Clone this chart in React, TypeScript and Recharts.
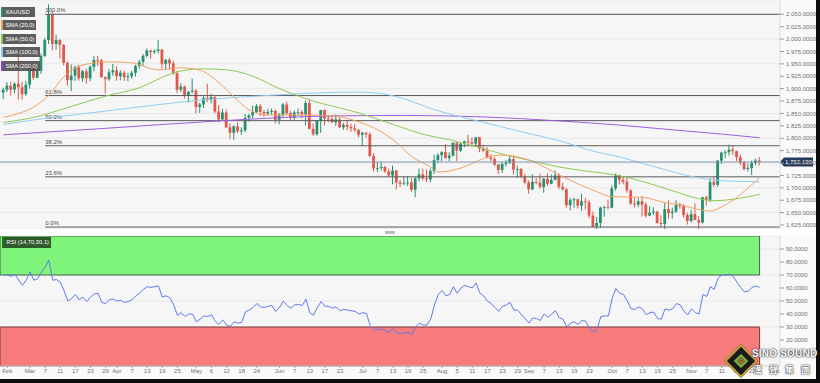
import React from 'react';
import { ComposedChart, Bar, Line, XAxis, YAxis, CartesianGrid, ReferenceLine, ReferenceArea } from 'recharts';

// first bar = Feb 18 (index 0 = Mar 1, trading-day index)
const FIRST_INDEX = -7;

const opens = [
  1892, 1898, 1906, 1898, 1910, 1903, 1889,
  1908, 1943, 1922, 1936, 1966, 1998, 2050, 1990, 1998, 1988,
  1952, 1917, 1926, 1943, 1921, 1935, 1921, 1944, 1958, 1957,
  1923, 1919, 1933, 1937, 1925, 1932, 1923, 1925, 1932, 1946,
  1954, 1966, 1977, 1974, 1976, 1979, 1950, 1958, 1951, 1931,
  1898, 1904, 1886, 1894, 1896, 1863, 1868, 1881, 1877, 1883,
  1854, 1838, 1852, 1822, 1811, 1824, 1814, 1816, 1841, 1846,
  1853, 1865, 1853, 1850, 1853, 1855, 1837, 1847, 1868, 1851,
  1841, 1852, 1853, 1848, 1871, 1819, 1808, 1835, 1857, 1840,
  1839, 1832, 1838, 1822, 1827, 1823, 1820, 1817, 1807, 1811,
  1808, 1764, 1739, 1740, 1742, 1733, 1725, 1735, 1711, 1708,
  1709, 1711, 1696, 1719, 1727, 1719, 1717, 1734, 1756, 1766,
  1772, 1760, 1765, 1791, 1775, 1789, 1794, 1792, 1789, 1802,
  1779, 1775, 1761, 1758, 1747, 1736, 1748, 1751, 1758, 1737,
  1738, 1723, 1711, 1697, 1712, 1710, 1702, 1718, 1708, 1716,
  1725, 1702, 1697, 1665, 1675, 1677, 1664, 1673, 1671, 1644,
  1622, 1629, 1660, 1661, 1660, 1699, 1725, 1716, 1712, 1695,
  1668, 1666, 1673, 1666, 1644, 1650, 1652, 1629, 1627, 1657,
  1649, 1652, 1665, 1663, 1645, 1633, 1647, 1635, 1630, 1681,
  1676, 1712, 1706, 1755, 1771, 1772, 1777, 1774, 1762, 1751,
  1738, 1740, 1750, 1755,
];
const highs = [
  1902, 1913, 1914, 1913, 1974, 1914, 1916,
  1950, 1950, 1937, 1971, 2002, 2070, 2056, 2009, 2000, 1990,
  1955, 1949, 1946, 1948, 1938, 1940, 1947, 1966, 1966, 1960,
  1925, 1940, 1950, 1945, 1937, 1936, 1932, 1936, 1948, 1958,
  1970, 1981, 1978, 1979, 1998, 1980, 1960, 1962, 1956, 1936,
  1911, 1906, 1895, 1920, 1899, 1872, 1885, 1910, 1890, 1886,
  1867, 1859, 1858, 1830, 1826, 1832, 1822, 1849, 1849, 1866,
  1869, 1869, 1857, 1859, 1860, 1858, 1851, 1871, 1874, 1855,
  1856, 1860, 1857, 1876, 1878, 1830, 1836, 1857, 1858, 1847,
  1847, 1848, 1842, 1831, 1837, 1829, 1829, 1818, 1813, 1813,
  1812, 1770, 1752, 1752, 1745, 1739, 1745, 1736, 1716, 1723,
  1724, 1720, 1722, 1739, 1739, 1737, 1739, 1767, 1770, 1774,
  1788, 1772, 1792, 1792, 1791, 1795, 1807, 1802, 1802, 1802,
  1787, 1782, 1767, 1762, 1748, 1751, 1756, 1766, 1765, 1745,
  1740, 1728, 1715, 1727, 1720, 1729, 1720, 1729, 1727, 1735,
  1729, 1710, 1700, 1680, 1680, 1678, 1688, 1680, 1676, 1652,
  1641, 1662, 1664, 1676, 1705, 1729, 1727, 1723, 1721, 1697,
  1680, 1679, 1683, 1671, 1663, 1661, 1654, 1645, 1669, 1675,
  1660, 1675, 1670, 1667, 1650, 1656, 1669, 1643, 1682, 1684,
  1720, 1722, 1756, 1773, 1776, 1787, 1786, 1775, 1767, 1754,
  1749, 1755, 1759, 1762,
];
const lows = [
  1879, 1893, 1886, 1891, 1878, 1878, 1885,
  1900, 1918, 1921, 1930, 1964, 1990, 1977, 1979, 1961, 1947,
  1906, 1895, 1916, 1916, 1914, 1910, 1915, 1935, 1946, 1922,
  1890, 1916, 1926, 1916, 1917, 1916, 1915, 1920, 1924, 1940,
  1945, 1963, 1960, 1970, 1971, 1941, 1939, 1939, 1928, 1891,
  1893, 1880, 1872, 1890, 1850, 1851, 1861, 1873, 1870, 1850,
  1832, 1836, 1821, 1798, 1797, 1810, 1807, 1812, 1834, 1840,
  1850, 1845, 1843, 1846, 1848, 1830, 1828, 1842, 1847, 1837,
  1837, 1845, 1840, 1826, 1818, 1805, 1805, 1811, 1826, 1832,
  1831, 1825, 1821, 1817, 1816, 1813, 1813, 1802, 1784, 1801,
  1763, 1733, 1732, 1735, 1730, 1722, 1707, 1697, 1702, 1706,
  1704, 1692, 1681, 1713, 1715, 1712, 1711, 1728, 1750, 1754,
  1759, 1754, 1763, 1754, 1772, 1782, 1787, 1783, 1784, 1772,
  1772, 1759, 1753, 1744, 1728, 1730, 1743, 1748, 1727, 1720,
  1720, 1707, 1688, 1695, 1707, 1698, 1690, 1704, 1707, 1715,
  1697, 1695, 1660, 1654, 1660, 1658, 1654, 1656, 1639, 1621,
  1616, 1620, 1642, 1657, 1659, 1695, 1707, 1707, 1690, 1666,
  1660, 1661, 1642, 1640, 1643, 1645, 1628, 1621, 1617, 1638,
  1638, 1650, 1658, 1640, 1626, 1630, 1635, 1616, 1628, 1664,
  1671, 1702, 1702, 1748, 1760, 1765, 1766, 1754, 1746, 1735,
  1733, 1726, 1745, 1745,
];
const closes = [
  1898, 1906, 1898, 1910, 1903, 1889, 1908,
  1943, 1922, 1936, 1966, 1998, 2050, 1990, 1998, 1988, 1952,
  1917, 1926, 1943, 1921, 1935, 1921, 1944, 1958, 1957, 1923,
  1919, 1933, 1937, 1925, 1932, 1923, 1925, 1932, 1946, 1954,
  1966, 1977, 1974, 1976, 1979, 1950, 1958, 1951, 1931, 1898,
  1904, 1886, 1894, 1896, 1863, 1868, 1881, 1877, 1883, 1854,
  1838, 1852, 1822, 1811, 1824, 1814, 1816, 1841, 1846, 1853,
  1865, 1853, 1850, 1853, 1855, 1837, 1847, 1868, 1851, 1841,
  1852, 1853, 1848, 1871, 1819, 1808, 1835, 1857, 1840, 1839,
  1832, 1838, 1822, 1827, 1823, 1820, 1817, 1807, 1811, 1808,
  1764, 1739, 1740, 1742, 1733, 1725, 1735, 1711, 1708, 1709,
  1711, 1696, 1719, 1727, 1719, 1717, 1734, 1756, 1766, 1772,
  1760, 1765, 1791, 1775, 1789, 1794, 1792, 1789, 1802, 1779,
  1775, 1761, 1758, 1747, 1736, 1748, 1751, 1758, 1737, 1738,
  1723, 1711, 1697, 1712, 1710, 1702, 1718, 1708, 1716, 1725,
  1702, 1697, 1665, 1675, 1677, 1664, 1673, 1671, 1644, 1622,
  1629, 1660, 1661, 1660, 1699, 1725, 1716, 1712, 1695, 1668,
  1666, 1673, 1666, 1644, 1650, 1652, 1629, 1627, 1657, 1649,
  1652, 1665, 1663, 1645, 1633, 1647, 1635, 1630, 1681, 1676,
  1712, 1706, 1755, 1771, 1772, 1777, 1774, 1762, 1751, 1738,
  1740, 1750, 1755, 1752,
];

const rsiValues = [
  70, 70, 69, 70.5, 66, 62, 66,
  72.5, 66, 67, 72, 76, 81.5, 66, 66.5, 64.5, 58,
  50, 52, 55, 51, 53, 49.5, 53, 55.5, 56, 49,
  48, 51, 51.5, 50, 50.5, 49, 49.5, 51, 54, 56,
  59, 61, 60.5, 61, 61.5, 53, 54, 52.5, 47, 39,
  41, 38, 40, 40, 34, 36, 38.5, 38, 39.5, 34.5,
  32, 35.5, 31.5, 30.5, 34, 33, 33.5, 41.8, 43, 45,
  48, 45.5, 45, 46, 46.5, 42, 45, 50, 46.5, 44.5,
  47, 47.3, 46.5, 51.5, 41, 39, 45, 49.5, 46, 45.8,
  44.5, 45.5, 42.5, 43.5, 43, 42.5, 42, 40, 41, 40.5,
  31, 27.5, 28, 28.5, 27, 26, 29, 25.5, 25, 25.5,
  26, 24, 30, 33, 31.5, 31.5, 36, 47, 55, 58,
  54, 55, 61, 56, 60, 62, 61, 60, 64, 56,
  54, 50, 48, 45, 42, 46, 47, 49, 43, 43,
  39.5, 36.5, 33, 37, 36.5, 35, 40, 37.5, 40, 42.5,
  37, 36, 30, 33, 34, 32, 35, 34.5, 29, 26,
  28, 38, 38.5, 38.5, 52, 59.5, 56, 55, 50, 44,
  43.5, 45.5, 44, 39.5, 41, 41.5, 36.5, 36, 44, 43,
  44, 48, 47, 42, 39.5, 44, 41, 40, 55, 53.5,
  61, 59, 67.5, 70, 70, 70.8, 69, 64.5, 60.5, 57,
  57.5, 60.5, 61.5, 60.5,
];

// moving averages: [trading-day index, value]
const sma20Points: [number, number][] = [
  [-7, 1842], [-3, 1850], [1, 1863], [5, 1887], [9, 1924], [14, 1948], [21, 1954], [27, 1952],
  [34, 1938], [40, 1942], [45, 1937], [50, 1912], [54, 1883], [58, 1857], [63, 1847], [71, 1847],
  [80, 1845], [87, 1833], [92, 1817], [97, 1791], [101, 1763], [106, 1742], [108, 1732], [114, 1740],
  [119, 1756], [122, 1764], [125, 1766], [132, 1756], [141, 1722], [150, 1692], [154, 1682],
  [162, 1681], [168, 1670], [172, 1666], [177, 1656], [180, 1653], [183, 1662], [186, 1675],
  [190, 1700], [193, 1720],
];
const sma50Points: [number, number][] = [
  [-7, 1832], [1, 1842], [10, 1862], [20, 1885], [29, 1902], [38, 1932], [45, 1940], [52, 1938],
  [59, 1925], [66, 1900], [75, 1875], [87, 1851], [96, 1828], [105, 1806], [111, 1797], [118, 1783],
  [126, 1766], [133, 1754], [140, 1742], [148, 1733], [155, 1726], [162, 1713], [170, 1694],
  [177, 1678], [181, 1674], [186, 1677], [193, 1687],
];
const sma100Points: [number, number][] = [
  [-7, 1828], [1, 1837], [18, 1853], [32, 1866], [45, 1877], [60, 1885], [75, 1891], [87, 1893],
  [93, 1890], [100, 1877], [106, 1860], [111, 1849], [120, 1832], [130, 1813], [140, 1795],
  [150, 1772], [155, 1764], [165, 1743], [177, 1720], [182, 1715], [188, 1713], [193, 1712],
];
const sma200Points: [number, number][] = [
  [-7, 1807], [20, 1820], [50, 1835], [80, 1845], [100, 1846], [120, 1843], [140, 1835],
  [155, 1827], [170, 1817], [185, 1807], [193, 1801],
];

const priceTicks = [1625, 1650, 1675, 1700, 1725, 1750, 1775, 1800, 1825, 1850, 1875, 1900, 1925, 1950, 1975, 2000, 2025, 2050];
const rsiTicks = [10, 20, 30, 40, 50, 60, 70, 80, 90];

const dateTickIndex = [-6, 0, 4, 8, 12, 16, 20, 23, 27, 31, 35, 39, 44, 48, 52, 56, 60, 66, 70, 74, 78, 82, 88, 92, 96, 100, 104, 109, 113, 117, 121, 125, 129, 132, 136, 140, 144, 148, 154, 158, 162, 166, 170, 175, 179, 183, 187, 191, 197];
const dateTickLabel = ['Feb', 'Mar', '7', '11', '17', '23', '29', 'Apr', '7', '13', '19', '25', 'May', '6', '12', '18', '24', 'Jun', '7', '13', '17', '23', 'Jul', '7', '13', '19', '25', 'Aug', '5', '11', '17', '23', '29', 'Sep', '7', '13', '19', '23', 'Oct', '7', '13', '19', '25', 'Nov', '7', '11', '17', '23', 'Dec'];
const monthStartIndex = [0, 23, 44, 66, 88, 109, 132, 154, 175, 197];

const fibLabels = ['100.0%', '61.8%', '50.0%', '38.2%', '23.6%', '0.0%'];
const fibPrices = [2050, 1886.1, 1835.5, 1784.9, 1722.2, 1621];
const fibStartIndex = 4;

const lastPrice = 1752.13;
const X_DOMAIN: [number, number] = [-7.94, 198.4];

const BULL = '#27916f';
const BEAR = '#e0584b';
const FONT = '"Liberation Sans", Arial, sans-serif';

const fmt4 = (v: number) => v.toLocaleString('en-US', { minimumFractionDigits: 4, maximumFractionDigits: 4 });

const Candle = (props: any) => {
  const { x, y, width, height, payload } = props;
  if (!payload || x == null) return null;
  const { o, h, l, c } = payload;
  const top = height >= 0 ? y : y + height;
  const hp = Math.abs(height);
  const span = h - l || 1;
  const yOf = (v: number) => top + ((h - v) / span) * hp;
  const cx = x + width / 2;
  const color = c >= o ? BULL : BEAR;
  const bt = yOf(Math.max(o, c));
  const bb = yOf(Math.min(o, c));
  return (
    <g>
      <line x1={cx} x2={cx} y1={top} y2={top + hp} stroke={color} strokeWidth={1} />
      <rect x={cx - 1.4} y={bt} width={2.8} height={Math.max(bb - bt, 0.8)} fill={color} />
    </g>
  );
};

const monthGrid = (p: any) => {
  const sc = p && p.xAxis && p.xAxis.scale;
  if (typeof sc !== 'function') return [];
  return monthStartIndex.map((m) => sc(m));
};

const legendItems = [
  { text: 'XAUUSD', color: BULL, w: 34 },
  { text: 'SMA (20,0)', color: '#f39a4e', w: 35 },
  { text: 'SMA (50,0)', color: '#86c84a', w: 35 },
  { text: 'SMA (100,0)', color: '#8ccaf2', w: 39 },
  { text: 'SMA (200,0)', color: '#8a3fe0', w: 39 },
];

const toSeries = (pts: [number, number][]) => pts.map(([i, v]) => ({ i, v }));

export default function App() {
  const rows: any[] = opens.map((o, k) => ({
    i: FIRST_INDEX + k,
    o,
    h: highs[k],
    l: lows[k],
    c: closes[k],
    rsi: rsiValues[k],
  }));
  const lastIndex = FIRST_INDEX + closes.length - 1;

  const axisTick = { fontSize: 6, fill: '#707070', fontFamily: FONT };

  return (
    <div style={{ position: 'absolute', left: 0, top: 0, width: 820, height: 383, background: '#0d0d0d', overflow: 'hidden', fontFamily: FONT }}>
      <div style={{ position: 'absolute', left: 0, top: 0, width: 816, height: 379, background: '#fafafa' }} />
      <div style={{ position: 'absolute', left: 0, top: 229, width: 816, height: 6, background: '#ffffff' }} />
      <div style={{ position: 'absolute', left: 385, top: 231, width: 10, height: 3, background: '#bcbcbc' }} />

      <div style={{ position: 'absolute', left: 0, top: 0 }}>
        <ComposedChart width={820} height={229} data={rows} margin={{ top: 0, right: 0, bottom: 0, left: 0 }}>
          <CartesianGrid stroke="#e9e9e9" fill="#f6f6f6" verticalCoordinatesGenerator={monthGrid} />
          <XAxis dataKey="i" type="number" domain={X_DOMAIN} hide allowDataOverflow />
          <YAxis
            orientation="right"
            width={40}
            domain={[1617, 2078.8]}
            ticks={priceTicks}
            allowDataOverflow
            tickFormatter={fmt4}
            tick={axisTick}
            tickSize={4}
            tickMargin={2}
            tickLine={{ stroke: '#9a9a9a' }}
            axisLine={{ stroke: '#d3d9e3' }}
          />
          {fibPrices.map((p, k) => (
            <ReferenceLine
              key={'f' + k}
              segment={[{ x: fibStartIndex, y: p }, { x: X_DOMAIN[1], y: p }]}
              stroke="#5a5a5a"
              strokeWidth={1}
              label={(lp: any) => {
                const vb = lp.viewBox || {};
                return (
                  <text x={vb.x} y={vb.y - 2} fontSize={6} fill="#4a4a4a" fontFamily={FONT}>
                    {fibLabels[k]}
                  </text>
                );
              }}
            />
          ))}
          <Line data={toSeries(sma200Points)} dataKey="v" type="monotone" stroke="#9b5fe0" strokeWidth={1} dot={false} activeDot={false} isAnimationActive={false} />
          <Line data={toSeries(sma100Points)} dataKey="v" type="monotone" stroke="#93cdf4" strokeWidth={1} dot={false} activeDot={false} isAnimationActive={false} />
          <Line data={toSeries(sma50Points)} dataKey="v" type="monotone" stroke="#8ccb52" strokeWidth={1} dot={false} activeDot={false} isAnimationActive={false} />
          <Line data={toSeries(sma20Points)} dataKey="v" type="monotone" stroke="#f4a262" strokeWidth={1} dot={false} activeDot={false} isAnimationActive={false} />
          <Bar dataKey={(d: any) => [d.l, d.h]} barSize={3} shape={<Candle />} isAnimationActive={false} />
          <ReferenceLine
            y={lastPrice}
            stroke="#7f97b8"
            strokeWidth={1}
            label={(lp: any) => {
              const vb = lp.viewBox || {};
              const x0 = vb.x + vb.width;
              const yy = vb.y;
              return (
                <g>
                  <path d={`M${x0} ${yy} L${x0 + 4} ${yy - 4.5} L${x0 + 33} ${yy - 4.5} L${x0 + 33} ${yy + 4.5} L${x0 + 4} ${yy + 4.5} Z`} fill="#233a5c" />
                  <text x={x0 + 5} y={yy + 2.2} fontSize={6} fill="#ffffff" fontFamily={FONT}>
                    {fmt4(lastPrice)}
                  </text>
                </g>
              );
            }}
          />
        </ComposedChart>
      </div>

      <div style={{ position: 'absolute', left: 0, top: 236 }}>
        <ComposedChart width={820} height={143} data={rows} margin={{ top: 0, right: 0, bottom: 0, left: 0 }}>
          <CartesianGrid stroke="#e9e9e9" fill="#f6f6f6" verticalCoordinatesGenerator={monthGrid} />
          <XAxis
            dataKey="i"
            type="number"
            domain={X_DOMAIN}
            allowDataOverflow
            ticks={dateTickIndex}
            interval={0}
            tickFormatter={(v: number) => dateTickLabel[dateTickIndex.indexOf(v)] ?? ''}
            tick={axisTick}
            height={13}
            tickSize={2}
            tickMargin={1}
            tickLine={{ stroke: '#a8a8a8' }}
            axisLine={{ stroke: '#e0e0e0' }}
          />
          <YAxis
            orientation="right"
            width={40}
            domain={[0, 100]}
            ticks={rsiTicks}
            allowDataOverflow
            tickFormatter={fmt4}
            tick={axisTick}
            tickSize={4}
            tickMargin={2}
            tickLine={{ stroke: '#9a9a9a' }}
            axisLine={{ stroke: '#d3d9e3' }}
          />
          <ReferenceArea x1={X_DOMAIN[0]} x2={lastIndex} y1={70} y2={100} fill="#7ef57a" fillOpacity={1} stroke="#4b5e4b" strokeWidth={1} />
          <ReferenceArea x1={X_DOMAIN[0]} x2={lastIndex} y1={0} y2={30} fill="#f87b7b" fillOpacity={1} stroke="#7a3b3b" strokeWidth={1} />
          <Line dataKey="rsi" type="linear" stroke="#5d7cf0" strokeWidth={1} dot={false} activeDot={false} isAnimationActive={false} />
        </ComposedChart>
      </div>

      <div style={{ position: 'absolute', left: 816, top: 0, width: 4, height: 383, background: '#0d0d0d' }} />
      <div style={{ position: 'absolute', left: 0, top: 379, width: 820, height: 4, background: '#0d0d0d' }} />

      {legendItems.map((it, k) => (
        <div
          key={it.text}
          style={{
            position: 'absolute',
            left: 1,
            top: 7 + k * 13.4,
            width: it.w,
            height: 10,
            background: 'rgba(78,78,78,0.9)',
            borderLeft: `2px solid ${it.color}`,
            color: '#ffffff',
            fontSize: 5.8,
            lineHeight: '10px',
            paddingLeft: 2.5,
            boxSizing: 'border-box',
            whiteSpace: 'nowrap',
            overflow: 'hidden',
          }}
        >
          {it.text}
        </div>
      ))}

      <div
        style={{
          position: 'absolute',
          left: 2,
          top: 237,
          width: 49,
          height: 11,
          background: '#2f5a2c',
          borderLeft: '2px solid #1f7a1a',
          color: '#ffffff',
          fontSize: 5.8,
          lineHeight: '11px',
          paddingLeft: 2.5,
          boxSizing: 'border-box',
          whiteSpace: 'nowrap',
          overflow: 'hidden',
        }}
      >
        RSI (14,70,30,1)
      </div>

      {/* watermark */}
      <div style={{ position: 'absolute', left: 729, top: 349, width: 24, height: 24, transform: 'rotate(45deg)', background: '#1a1a1a', border: '2px solid #c9a43a', boxSizing: 'border-box' }}>
        <div style={{ position: 'absolute', left: 5, top: 5, width: 10, height: 10, background: '#8a6a2a', border: '2px solid #6fb04a', boxSizing: 'border-box' }} />
      </div>
      <div style={{ position: 'absolute', left: 752, top: 348, color: '#ffffff', fontSize: 10, fontWeight: 700, letterSpacing: 0.2, textShadow: '0 0 2px #333, 0 0 1px #000', whiteSpace: 'nowrap', fontFamily: '"Liberation Sans", Arial, sans-serif' }}>
        SINO SOUND
      </div>
      <div style={{ position: 'absolute', left: 753, top: 363, color: '#ffffff', fontSize: 9, fontWeight: 700, letterSpacing: 7, textShadow: '0 0 2px #333, 0 0 1px #000', whiteSpace: 'nowrap', fontFamily: '"Noto Sans CJK TC", sans-serif' }}>
        漢聲集團
      </div>
    </div>
  );
}
